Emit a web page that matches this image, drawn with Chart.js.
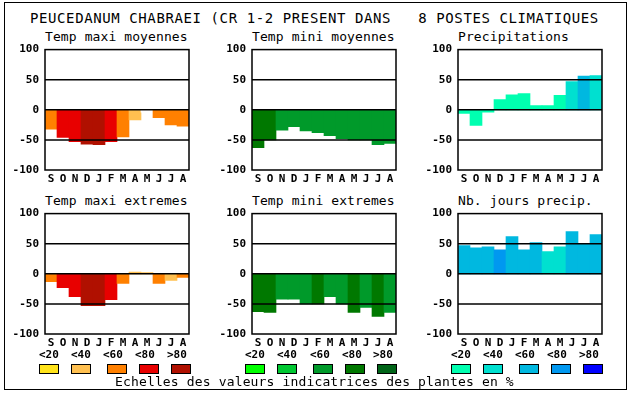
<!DOCTYPE html>
<html>
<head>
<meta charset="utf-8">
<script src="https://cdn.jsdelivr.net/npm/chart.js@4"></script>
<style>
  html, body { margin:0; padding:0; background:#fff; width:630px; height:394px; overflow:hidden; }
  body { position:relative; font-family:'DejaVu Sans Mono', 'Liberation Mono', monospace; color:#000; }
  .abs { position:absolute; white-space:pre; }
  .frame { position:absolute; left:4px; top:2px; width:621px; height:386px; border:1px solid #000; }
  .title { font-size:14px; letter-spacing:0.6px; line-height:14px; }
  .ptitle { font-size:13px; line-height:13px; letter-spacing:0.1px; }
  .lg { font-size:11px; font-weight:bold; line-height:11px; }
  .box { position:absolute; width:18px; height:8px; border:1px solid #000; }
  .foot { font-size:13px; letter-spacing:0.15px; line-height:13px; }
  canvas { position:absolute; }
</style>
</head>
<body>
<div class="frame"></div>
<div id="mainTitle" class="abs title" style="left:30px; top:11px;"></div>
<script>
// ---- data ----
const months = ['S','O','N','D','J','F','M','A','M','J','J','A'];
const yTickValues = [100, 50, 0, -50, -100];
const gridValues = [50, 0, -50];
const legendLabels = ['<20','<40','<60','<80','>80'];
const footerText = 'Echelles des valeurs indicatrices des plantes en %';
const mainTitle = 'PEUCEDANUM CHABRAEI (CR 1-2 PRESENT DANS   8 POSTES CLIMATIQUES';

const panelTitles = ['Temp maxi moyennes','Temp mini moyennes','Precipitations',
                     'Temp maxi extremes','Temp mini extremes','Nb. jours precip.'];

const tempMaxiMoy      = [-32,-46,-53,-57,-58,-53,-45,-17,-4,-13,-25,-27];
const tempMaxiMoyClass = [3,4,4,5,5,4,3,2,0,3,3,3];
const tempMiniMoy      = [-63,-50,-34,-28,-35,-38,-43,-48,-50,-50,-58,-56];
const tempMiniMoyClass = [4,4,3,3,3,3,3,3,3,3,3,3];
const precip           = [-6,-26,-4,17,25,27,7,7,24,47,56,57];
const precipClass      = [1,1,1,1,1,1,1,1,1,2,3,2];
const tempMaxiExt      = [-13,-23,-38,-53,-53,-43,-16,3,2,-16,-11,-6];
const tempMaxiExtClass = [3,4,4,5,5,4,3,2,2,3,2,3];
const tempMiniExt      = [-63,-64,-42,-42,-50,-50,-38,-50,-64,-56,-71,-64];
const tempMiniExtClass = [4,4,3,3,3,4,3,3,4,3,4,3];
const joursPrecip      = [47,43,45,40,62,40,52,37,45,70,50,65];
const joursPrecipClass = [3,3,3,4,3,3,3,2,2,3,3,3];

// ---- styles ----
const warmPalette  = ['#ffffff','#ffe31a','#ffc050','#ff8000','#e80000','#b01000'];
const greenPalette = ['#ffffff','#00ff00','#00c832','#009a2a','#007800','#006418'];
const bluePalette  = ['#ffffff','#00ffb0','#00e0d0','#00b8e0','#0098f0','#0000ff'];

const FONT = "'DejaVu Sans Mono', 'Liberation Mono', monospace";
const plotLefts = [45, 252, 458];
const plotTops = [50, 214];
const PLOT_W = 144, PLOT_H = 120, AX_W = 44, PAD_T = 8, AX_H = 16, PAD_R = 4;

document.getElementById('mainTitle').textContent = mainTitle;

const panels = [
  {values: tempMaxiMoy, classes: tempMaxiMoyClass, palette: warmPalette},
  {values: tempMiniMoy, classes: tempMiniMoyClass, palette: greenPalette},
  {values: precip,      classes: precipClass,      palette: bluePalette},
  {values: tempMaxiExt, classes: tempMaxiExtClass, palette: warmPalette},
  {values: tempMiniExt, classes: tempMiniExtClass, palette: greenPalette},
  {values: joursPrecip, classes: joursPrecipClass, palette: bluePalette},
];

const framePlugin = {
  id: 'frame',
  afterDatasetsDraw(chart) {
    const {ctx, chartArea: a, scales: {y}} = chart;
    ctx.save();
    ctx.strokeStyle = '#000';
    ctx.lineWidth = 1.5;
    gridValues.forEach(v => {
      const py = y.getPixelForValue(v);
      ctx.beginPath(); ctx.moveTo(a.left, py); ctx.lineTo(a.right, py); ctx.stroke();
    });
    ctx.strokeRect(a.left, a.top, a.right - a.left, a.bottom - a.top);
    ctx.restore();
  }
};

panels.forEach((p, i) => {
  const col = i % 3, row = Math.floor(i / 3);
  const left = plotLefts[col], top = plotTops[row];

  const t = document.createElement('div');
  t.className = 'abs ptitle';
  t.textContent = panelTitles[i];
  t.style.left = left + 'px';
  t.style.top = (top - 20) + 'px';
  document.body.appendChild(t);

  const c = document.createElement('canvas');
  let w = AX_W + PLOT_W + PAD_R, h = PAD_T + PLOT_H + AX_H;
  c.width = w; c.height = h;
  c.style.width = w + 'px'; c.style.height = h + 'px';
  document.body.appendChild(c);

  const chart = new Chart(c, {
    type: 'bar',
    data: {
      labels: months,
      datasets: [{
        data: p.values,
        backgroundColor: p.classes.map(k => p.palette[k]),
        borderWidth: 0,
        categoryPercentage: 1,
        barPercentage: 1
      }]
    },
    options: {
      responsive: false,
      maintainAspectRatio: false,
      animation: false,
      devicePixelRatio: 1,
      layout: { padding: { top: PAD_T, right: PAD_R, left: 0, bottom: 0 } },
      plugins: { legend: { display: false }, tooltip: { enabled: false }, title: { display: false } },
      scales: {
        x: {
          type: 'category',
          grid: { display: false, drawTicks: false },
          border: { display: false },
          ticks: { color: '#000', font: { family: FONT, size: 11, weight: 'bold' }, padding: 3, maxRotation: 0, autoSkip: false },
          afterFit(s) { s.height = AX_H; }
        },
        y: {
          min: -100, max: 100,
          grid: { display: false, drawTicks: false },
          border: { display: false },
          afterBuildTicks(s) { s.ticks = yTickValues.map(v => ({ value: v })); },
          ticks: { color: '#000', font: { family: FONT, size: 11, weight: 'bold' }, padding: 6, callback: v => String(v) },
          afterFit(s) { s.width = AX_W; }
        }
      }
    },
    plugins: [framePlugin]
  });

  // adjust canvas size so that the plot area is exactly PLOT_W x PLOT_H
  for (let k = 0; k < 3; k++) {
    const a = chart.chartArea;
    const dw = PLOT_W - (a.right - a.left), dh = PLOT_H - (a.bottom - a.top);
    if (Math.abs(dw) < 0.01 && Math.abs(dh) < 0.01) break;
    w = Math.round(w + dw); h = Math.round(h + dh);
    chart.resize(w, h);
  }
  const a = chart.chartArea;
  c.style.left = (left - a.left) + 'px';
  c.style.top = (top - a.top) + 'px';
});

// ---- legend ----
const legendGroups = [
  {palette: warmPalette,  labelX: [39,71,103,135,167], boxX: [39,71,107,139,171]},
  {palette: greenPalette, labelX: [245,277,310,342,373], boxX: [245,277,313,345,377]},
  {palette: bluePalette,  labelX: [451,483,515,547,579], boxX: [451,483,519,551,583]},
];
legendGroups.forEach(g => {
  legendLabels.forEach((lab, k) => {
    const d = document.createElement('div');
    d.className = 'abs lg';
    d.textContent = lab;
    d.style.left = g.labelX[k] + 'px';
    d.style.top = '349px';
    document.body.appendChild(d);
    const b = document.createElement('div');
    b.className = 'box';
    b.style.left = g.boxX[k] + 'px';
    b.style.top = '364px';
    b.style.background = g.palette[k + 1];
    document.body.appendChild(b);
  });
});
const f = document.createElement('div');
f.className = 'abs foot';
f.textContent = footerText;
f.style.left = '115px';
f.style.top = '375px';
document.body.appendChild(f);
</script>
</body>
</html>
